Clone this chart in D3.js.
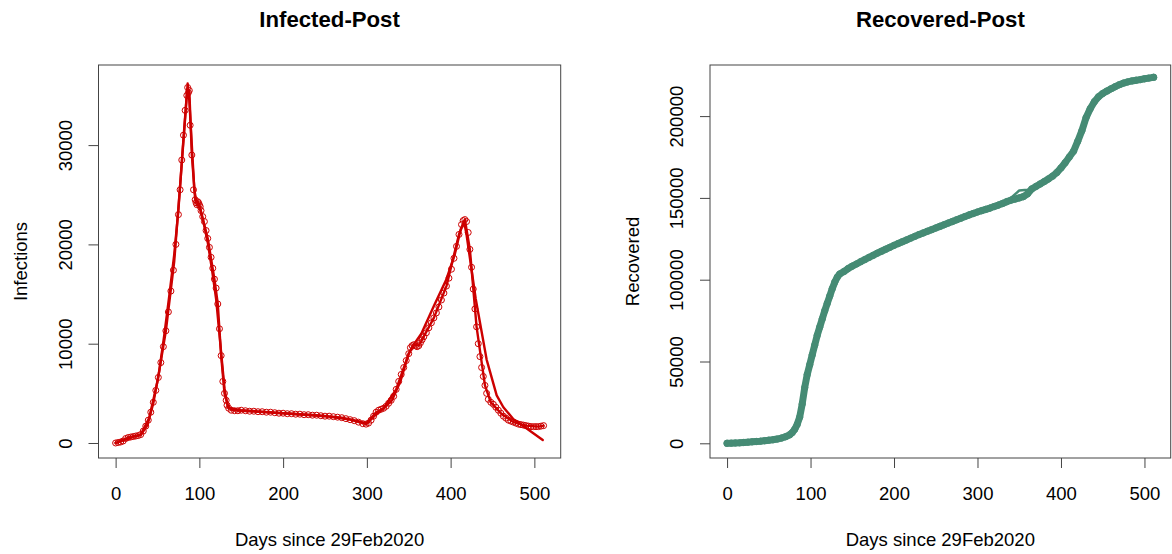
<!DOCTYPE html>
<html><head><meta charset="utf-8">
<script src="https://cdn.jsdelivr.net/npm/d3@7"></script>
<style>body{margin:0;background:#fff}svg{display:block}text{font-family:"Liberation Sans",Arial,sans-serif;fill:#000}</style>
</head><body>
<svg id="c" width="1172" height="554"></svg>
<script>
// ---- data ----
const titles = ["Infected-Post", "Recovered-Post"];
const yLabels = ["Infections", "Recovered"];
const xLabel = "Days since 29Feb2020";
const xTicks = [0, 100, 200, 300, 400, 500];
const infYTicks = [0, 10000, 20000, 30000];
const recYTicks = [0, 50000, 100000, 150000, 200000];

const infDays = [0,3,6,9,12,15,18,21,24,27,30,33,36,39,42,45,48,51,54,57,60,63,66,69,72,75,77,79,81,83,85,86,87,88,89,91,93,95,96,97,98,99,100,101,102,104,106,108,110,112,114,116,118,120,122,124,126,128,130,132,133,135,138,142,146,150,155,160,165,170,175,180,185,190,195,200,205,210,215,220,225,230,235,240,245,250,255,260,265,270,275,280,285,290,295,299,302,305,308,311,314,317,320,323,326,329,332,335,338,341,344,347,350,352,354,356,358,360,362,364,366,368,371,374,377,380,383,386,389,392,395,398,401,404,407,410,413,415,417,419,421,423,425,427,429,431,433,435,437,439,441,443,445,448,451,454,457,460,463,466,469,472,475,478,481,484,487,490,493,496,499,502,505,508,511];
const infValues = [0,50,100,200,450,550,600,650,700,750,850,1200,1700,2300,3100,4100,5300,6600,8100,9700,11300,13200,15300,17400,20000,23000,25500,28500,31000,33500,35000,35800,35300,35500,32000,29000,25500,24500,24200,24000,24300,24200,24000,23800,23400,22800,22300,21400,20600,19700,18700,17600,16500,15600,14000,11500,8800,6200,5000,4300,3800,3500,3300,3250,3250,3300,3250,3200,3200,3150,3150,3100,3100,3050,3000,3000,2950,2950,2900,2900,2850,2850,2800,2800,2750,2700,2700,2650,2600,2550,2450,2350,2250,2100,1950,1900,2000,2300,2700,3100,3300,3400,3500,3700,4000,4300,4700,5400,6200,6900,7600,8300,9000,9600,9800,9900,9800,9700,9800,10100,10400,10700,11100,11600,12100,12600,13100,13700,14400,15100,15800,16600,17500,18600,19800,21000,22000,22400,22500,22300,21200,19500,17700,15500,13500,11700,10000,8700,7600,6700,5800,5000,4400,4100,3900,3600,3300,3000,2700,2500,2300,2200,2100,2000,1900,1850,1800,1750,1700,1650,1650,1650,1650,1700,1750];

const infFitDays = [0,10,20,30,38,45,52,58,64,70,75,80,84,86,88,91,94,96,100,105,110,115,120,125,130,134,140,160,200,240,270,290,300,310,320,330,340,350,355,365,380,395,405,412,416,419,430,443,455,463,475,490,500,510];
const infFitValues = [0,300,600,800,1800,4000,7200,10800,14800,19000,23500,29500,34000,36200,34500,30000,25500,24500,23800,22200,20200,17500,14500,10000,5500,3600,3300,3200,3000,2800,2550,2200,1950,2800,3500,4300,6200,9000,9800,11000,13800,16500,19000,21500,22300,21000,14500,8400,4800,3600,2400,1500,900,300];

const infFit2Days = [0,15,30,40,50,60,70,78,85,88,91,95,100,110,118,122,126,130,135,150,200,250,280,299,311,320,335,350,356,362,380,395,410,417,423,431,441,448,460,475,490,505,511];
const infFit2Values = [0,550,850,2500,6200,11300,18300,27000,35000,35500,29000,24500,24000,20600,16500,14000,8800,5000,3500,3300,3000,2700,2350,1900,3100,3500,5400,9000,9900,9800,12600,15800,21000,22500,19500,11700,5800,4100,3000,2100,1750,1650,1750];

const recDays = [0,5,10,15,20,25,30,35,40,45,50,55,60,65,70,75,78,81,84,87,90,93,96,99,102,105,108,111,114,117,120,123,126,129,132,135,140,145,150,155,160,165,170,175,180,185,190,195,200,205,210,215,220,225,230,235,240,245,250,255,260,265,270,275,280,285,290,295,300,305,310,315,320,325,330,335,340,345,350,355,360,365,370,375,380,385,390,395,400,405,410,415,420,425,430,435,440,445,450,455,460,465,470,475,480,485,490,495,500,505,511];
const recValues = [0,100,200,300,500,700,900,1100,1300,1600,1900,2200,2600,3200,4000,5200,6500,8500,11500,16000,24000,34000,42000,48000,54000,60000,66000,71000,76000,81000,85500,90000,94500,98500,101500,103500,105000,106800,108300,109600,111000,112300,113600,114900,116200,117400,118600,119800,121000,122100,123200,124300,125400,126500,127600,128600,129600,130600,131600,132600,133600,134600,135600,136600,137600,138600,139600,140500,141400,142200,143000,143800,144700,145600,146600,147700,148600,149300,150000,150800,152500,155500,157000,158500,160000,161600,163300,165500,168300,171500,175000,178500,184500,191000,199000,204500,208800,211800,213800,215300,216700,218000,219200,220200,220900,221500,221900,222300,222800,223200,223700];

const recFitDays = [0,40,70,80,85,90,95,100,110,120,130,135,150,200,250,300,335,340,350,360,365,380,400,410,420,430,440,450,470,490,511];
const recFitValues = [0,1300,4000,7500,13000,23000,38000,50000,69000,85500,100000,103500,108300,121000,131600,141400,147700,150000,154500,155000,155500,160000,168300,175000,184500,199000,208800,213800,219700,222100,223700];

// ---- drawing ----
const svg = d3.select("#c");
const W = 1172, H = 554;
svg.append("rect").attr("width", W).attr("height", H).attr("fill", "#fff");

function panel(cfg) {
  const g = svg.append("g");
  const x = d3.scaleLinear().domain([-20.44, 531.44]).range([cfg.left, cfg.right]);
  const y = d3.scaleLinear().domain(cfg.ydom).range([cfg.bottom, cfg.top]);
  const pts = cfg.days.map((d, i) => [d, cfg.vals[i]]);
  const clip = "clip" + cfg.id;
  svg.append("clipPath").attr("id", clip).append("rect")
    .attr("x", cfg.left).attr("y", cfg.top).attr("width", cfg.right - cfg.left).attr("height", cfg.bottom - cfg.top);
  const pg = g.append("g").attr("clip-path", `url(#${clip})`);
  const line = d3.line().x(d => x(d[0])).y(d => y(d[1]));
  cfg.fits.forEach(f => {
    const fit = f.days.map((d, i) => [d, f.vals[i]]);
    pg.append("path").datum(fit).attr("d", line)
      .attr("fill", "none").attr("stroke", cfg.color).attr("stroke-width", f.lw)
      .attr("stroke-linejoin", "round").attr("stroke-linecap", "round");
  });
  pg.selectAll("circle").data(pts).join("circle")
    .attr("cx", d => x(d[0])).attr("cy", d => y(d[1])).attr("r", cfg.r)
    .attr("fill", "none").attr("stroke", cfg.color).attr("stroke-width", 1);
  // box
  g.append("rect").attr("x", cfg.left).attr("y", cfg.top).attr("width", cfg.right - cfg.left).attr("height", cfg.bottom - cfg.top)
    .attr("fill", "none").attr("stroke", "#444").attr("stroke-width", 1);
  // axes
  const xa = g.append("g").attr("transform", `translate(0,${cfg.bottom})`)
    .call(d3.axisBottom(x).tickValues(xTicks).tickSize(10).tickFormat(d3.format("d")));
  const ya = g.append("g").attr("transform", `translate(${cfg.left},0)`)
    .call(d3.axisLeft(y).tickValues(cfg.yticks).tickSize(10).tickFormat(d3.format("d")));
  [xa, ya].forEach(a => {
    a.select(".domain").remove();
    a.selectAll("line").attr("stroke", "#444");
    a.selectAll("text").style("font-size", "18.5px").attr("fill", "#000");
  });
  xa.selectAll("text").attr("dy", "0").attr("y", 42);
  ya.selectAll("text").attr("transform", "translate(-27,0) rotate(-90)")
    .attr("x", 0).attr("y", 0).attr("dy", 0).attr("text-anchor", "middle");
  // labels
  g.append("text").attr("x", (cfg.left + cfg.right) / 2).attr("y", 27).attr("text-anchor", "middle")
    .style("font-size", "22.2px").style("font-weight", "bold").text(cfg.title);
  g.append("text").attr("x", (cfg.left + cfg.right) / 2).attr("y", 546).attr("text-anchor", "middle")
    .style("font-size", "18.5px").text(xLabel);
  g.append("text").attr("transform", `translate(${cfg.left - 71.5},${(cfg.top + cfg.bottom) / 2}) rotate(-90)`)
    .attr("text-anchor", "middle").style("font-size", "18.5px").text(cfg.ylabel);
}

panel({id: "a", left: 98.5, right: 560.7, top: 65, bottom: 458, ydom: [-1511, 38066],
  days: infDays, vals: infValues, color: "#CD0000", r: 3,
  fits: [{days: infFitDays, vals: infFitValues, lw: 2.4}, {days: infFit2Days, vals: infFit2Values, lw: 2.4}],
  yticks: infYTicks, title: titles[0], ylabel: yLabels[0]});
panel({id: "b", left: 710, right: 1170.7, top: 65, bottom: 458, ydom: [-8985, 231235],
  days: recDays, vals: recValues, color: "#458B74", r: 3.2,
  fits: [{days: recFitDays, vals: recFitValues, lw: 2.5}, {days: recDays, vals: recValues, lw: 7}],
  yticks: recYTicks, title: titles[1], ylabel: yLabels[1]});
</script>
</body></html>
